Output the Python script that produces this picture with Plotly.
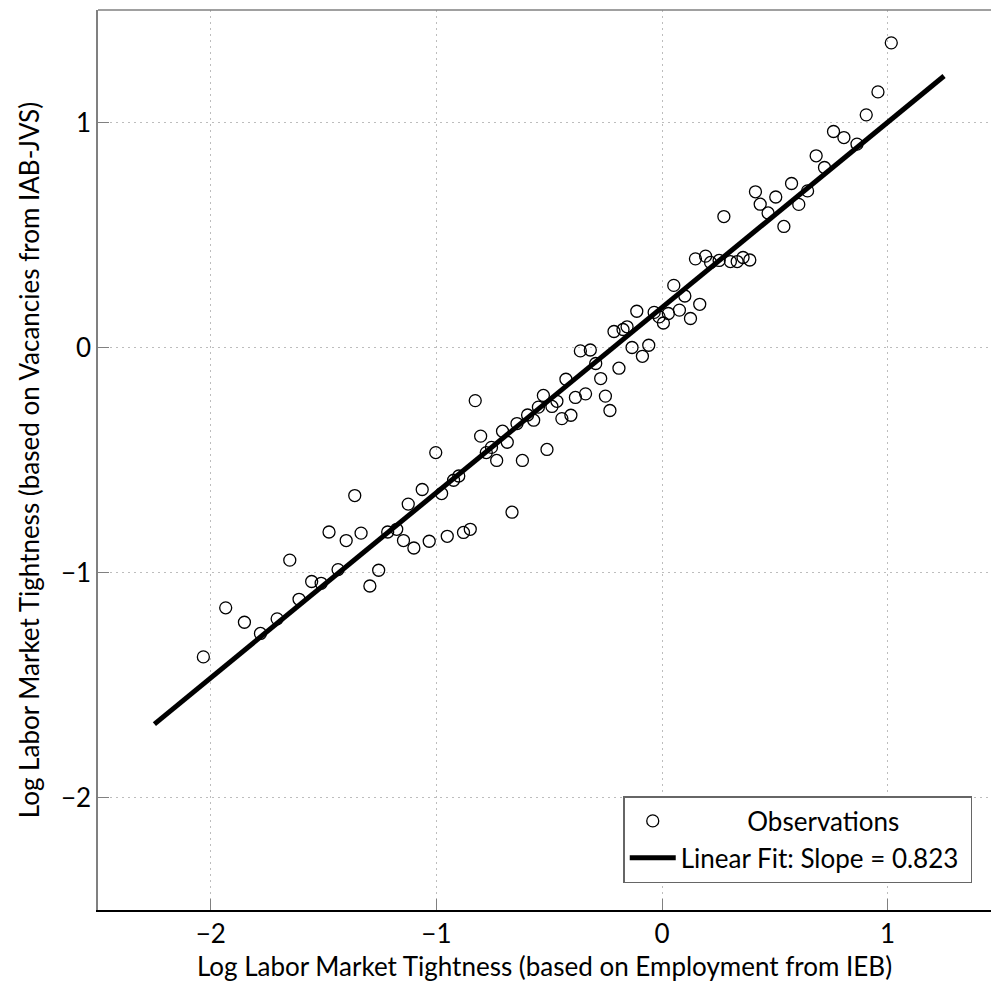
import plotly.graph_objects as go

# Observations
obs_x = [-2.033, -1.934, -1.851, -1.780, -1.706, -1.650, -1.609, -1.553, -1.511, -1.436,
         -1.476, -1.400, -1.362, -1.334, -1.295, -1.256, -1.216, -1.176, -1.125, -1.063,
         -1.146, -1.100, -1.032, -0.977, -0.952, -0.880, -0.850, -0.924, -0.901, -1.003,
         -0.828, -0.804, -0.779, -0.756, -0.733, -0.707, -0.686, -0.665, -0.643, -0.619,
         -0.596, -0.569, -0.548, -0.526, -0.510, -0.488, -0.466, -0.444, -0.404, -0.426,
         -0.384, -0.339, -0.362, -0.318, -0.294, -0.272, -0.251, -0.231, -0.191, -0.133,
         -0.087, -0.059, -0.213, -0.173, -0.155, -0.112, -0.035, -0.013, 0.006, 0.028,
         0.077, 0.052, 0.101, 0.126, 0.167, 0.148, 0.193, 0.215, 0.253, 0.274,
         0.303, 0.333, 0.359, 0.389, 0.414, 0.435, 0.470, 0.504, 0.540, 0.574,
         0.606, 0.645, 0.683, 0.720, 0.760, 0.806, 0.864, 0.905, 0.957, 1.016]
obs_y = [-1.375, -1.157, -1.221, -1.271, -1.206, -0.945, -1.119, -1.040, -1.048, -0.987,
         -0.820, -0.858, -0.658, -0.825, -1.060, -0.990, -0.820, -0.808, -0.696, -0.631,
         -0.858, -0.891, -0.861, -0.649, -0.839, -0.822, -0.808, -0.590, -0.571, -0.467,
         -0.236, -0.394, -0.467, -0.444, -0.502, -0.372, -0.421, -0.732, -0.338, -0.502,
         -0.300, -0.323, -0.265, -0.213, -0.453, -0.262, -0.239, -0.316, -0.301, -0.141,
         -0.222, -0.206, -0.015, -0.011, -0.071, -0.138, -0.216, -0.280, -0.092, 0.000,
         -0.039, 0.010, 0.071, 0.080, 0.092, 0.161, 0.156, 0.136, 0.109, 0.151,
         0.166, 0.276, 0.229, 0.129, 0.192, 0.394, 0.406, 0.378, 0.387, 0.582,
         0.382, 0.382, 0.400, 0.389, 0.692, 0.637, 0.598, 0.669, 0.538, 0.729,
         0.636, 0.696, 0.852, 0.800, 0.960, 0.933, 0.904, 1.034, 1.136, 1.354]

# Linear fit
fit_slope = 0.823
fit_intercept = 0.178
fit_x = [-2.25, 1.25]
fit_y = [fit_intercept + fit_slope * v for v in fit_x]

x_ticks = [-2, -1, 0, 1]
y_ticks = [-2, -1, 0, 1]
x_tick_labels = ["−2", "−1", "0", "1"]
y_tick_labels = ["−2", "−1", "0", "1"]

FONT = "Lato"
FS = 26

fig = go.Figure()
fig.add_trace(go.Scatter(
    x=obs_x, y=obs_y, mode="markers",
    name="\u00a0" * 10 + "Observations",
    marker=dict(symbol="circle-open", size=12, color="black", line=dict(width=1.3, color="black")),
))
fig.add_trace(go.Scatter(
    x=fit_x, y=fit_y, mode="lines",
    name="Linear Fit: Slope = 0.823\u00a0",
    line=dict(color="black", width=5),
))

axis_common = dict(
    showgrid=True, gridcolor="#bdbdbd", griddash="1.5px,4.5px", gridwidth=1,
    zeroline=False, ticks="inside", ticklen=11, tickcolor="#808080", tickwidth=1,
    tickfont=dict(family=FONT, size=FS, color="black"),
    showline=True,
)

fig.update_layout(
    width=991, height=986,
    margin=dict(l=98, r=0, t=10, b=76),
    paper_bgcolor="white", plot_bgcolor="white",
    font=dict(family=FONT, size=FS, color="black"),
    xaxis=dict(range=[-2.5, 1.458], tickvals=x_ticks, ticktext=x_tick_labels,
               linecolor="black", linewidth=1.5,
               title=dict(text="Log Labor Market Tightness (based on Employment from IEB)",
                          font=dict(family=FONT, size=FS), standoff=10),
               **axis_common),
    yaxis=dict(range=[-2.5, 1.5], tickvals=y_ticks, ticktext=y_tick_labels,
               linecolor="#808080", linewidth=1.5,
               title=dict(text="Log Labor Market Tightness (based on Vacancies from IAB-JVS)",
                          font=dict(family=FONT, size=FS), standoff=14),
               **axis_common),
    legend=dict(x=0.979, y=0.03, xanchor="right", yanchor="bottom",
                bgcolor="white", bordercolor="#666666", borderwidth=1.5,
                font=dict(family=FONT, size=FS), itemwidth=46, tracegroupgap=0),
    showlegend=True,
    shapes=[dict(type="line", xref="paper", yref="paper", x0=0, x1=1, y0=1, y1=1,
                 line=dict(color="#808080", width=1.5))],
)

fig.write_html("out.html", config={"displayModeBar": False},
               post_script="document.body.style.margin='0';document.body.style.overflow='hidden';")
